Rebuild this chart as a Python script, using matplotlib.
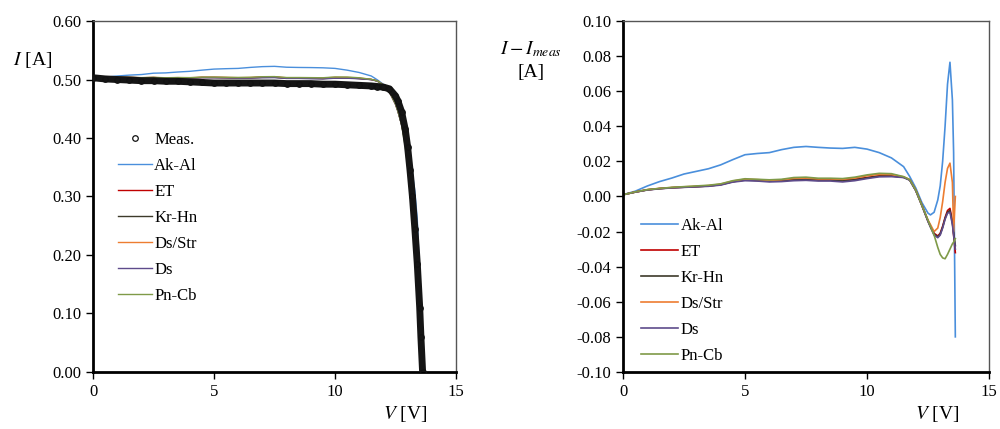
import numpy as np
import matplotlib
matplotlib.use("Agg")
import matplotlib.pyplot as plt

plt.rcParams['font.family'] = ['Liberation Serif', 'DejaVu Serif']
plt.rcParams['mathtext.fontset'] = 'stix'

# voltage grid [V]
V = [0, 0.5, 1, 1.5, 2, 2.5, 3, 3.5, 4, 4.5, 5, 5.5, 6, 6.5, 7, 7.5, 8, 8.5,
     9, 9.5, 10, 10.5, 11, 11.5, 11.75, 12, 12.25, 12.5, 12.6, 12.75, 12.9,
     13.0, 13.1, 13.2, 13.3, 13.4, 13.5, 13.55, 13.62]

# measured current [A]
I_meas = [0.503, 0.501, 0.500, 0.499, 0.498, 0.498, 0.497, 0.497, 0.496, 0.495,
          0.494, 0.494, 0.494, 0.494, 0.494, 0.494, 0.493, 0.493, 0.493, 0.492,
          0.492, 0.491, 0.490, 0.489, 0.488, 0.487, 0.484, 0.472, 0.463, 0.445,
          0.415, 0.385, 0.345, 0.300, 0.245, 0.185, 0.110, 0.060, 0.000]

# model minus measurement [A]
d_akal = [0.001, 0.003, 0.006, 0.0085, 0.0105, 0.0128, 0.0143, 0.0158, 0.018, 0.021,
          0.0238, 0.0245, 0.025, 0.0267, 0.028, 0.0285, 0.028, 0.0276, 0.0274, 0.028,
          0.027, 0.025, 0.022, 0.017, 0.0114, 0.0048, -0.0035, -0.0095, -0.0105, -0.009,
          -0.002, 0.006, 0.020, 0.040, 0.064, 0.0765, 0.055, 0.025, -0.080]
d_et = [0.001, 0.0025, 0.0038, 0.0045, 0.005, 0.0053, 0.0056, 0.006, 0.0068, 0.0085,
        0.0095, 0.0092, 0.0088, 0.009, 0.0098, 0.0100, 0.0095, 0.0095, 0.0092, 0.0098,
        0.0108, 0.0118, 0.0118, 0.0110, 0.0095, 0.0035, -0.005, -0.014, -0.017, -0.021,
        -0.0225, -0.021, -0.017, -0.012, -0.008, -0.0068, -0.014, -0.022, -0.032]
d_krhn = [0.001, 0.0025, 0.0038, 0.0045, 0.005, 0.0053, 0.0056, 0.006, 0.0067, 0.0084,
          0.0094, 0.0091, 0.0087, 0.0089, 0.0096, 0.0098, 0.0094, 0.0094, 0.0090, 0.0096,
          0.0106, 0.0116, 0.0117, 0.0109, 0.0094, 0.0034, -0.005, -0.014, -0.017, -0.0215,
          -0.023, -0.0215, -0.0175, -0.0125, -0.009, -0.008, -0.015, -0.021, -0.028]
d_dsstr = [0.001, 0.0026, 0.0039, 0.0046, 0.0051, 0.0055, 0.0058, 0.0062, 0.007, 0.0088,
           0.0098, 0.0096, 0.0092, 0.0095, 0.0103, 0.0105, 0.0100, 0.0100, 0.0098, 0.0105,
           0.0118, 0.0126, 0.0125, 0.0112, 0.0096, 0.0036, -0.005, -0.0135, -0.016, -0.020,
           -0.018, -0.012, -0.003, 0.008, 0.016, 0.019, 0.008, -0.020, 0.000]
d_ds = [0.001, 0.0025, 0.0037, 0.0044, 0.0049, 0.0052, 0.0055, 0.0058, 0.0065, 0.0082,
        0.009, 0.0088, 0.0083, 0.0085, 0.009, 0.0092, 0.0088, 0.0088, 0.0083, 0.009,
        0.0102, 0.0112, 0.0113, 0.0108, 0.0093, 0.0033, -0.0052, -0.0142, -0.0175, -0.022,
        -0.0235, -0.022, -0.018, -0.013, -0.0095, -0.009, -0.016, -0.022, -0.030]
d_pncb = [0.001, 0.0026, 0.0039, 0.0046, 0.0052, 0.0056, 0.006, 0.0064, 0.0072, 0.009,
          0.0101, 0.0098, 0.0095, 0.0098, 0.0108, 0.011, 0.0104, 0.0104, 0.0102, 0.011,
          0.0123, 0.0132, 0.013, 0.0113, 0.0096, 0.0036, -0.005, -0.0135, -0.017, -0.022,
          -0.029, -0.033, -0.035, -0.0355, -0.033, -0.030, -0.027, -0.026, -0.024]

names = ['Ak-Al', 'ET', 'Kr-Hn', 'Ds/Str', 'Ds', 'Pn-Cb']
diffs = [d_akal, d_et, d_krhn, d_dsstr, d_ds, d_pncb]
colors = ['#4a8fdc', '#c00000', '#3d3a2a', '#ed7d31', '#5e4b8b', '#7f9a48']

V = np.array(V)
I_meas = np.array(I_meas)

fig = plt.figure(figsize=(10, 4.29), dpi=100)
ax1 = fig.add_axes([0.093, 0.133, 0.363, 0.818])
ax2 = fig.add_axes([0.623, 0.133, 0.366, 0.818])


def style(ax):
    for s in ['left', 'bottom']:
        ax.spines[s].set_linewidth(2)
        ax.spines[s].set_color('black')
    for s in ['top', 'right']:
        ax.spines[s].set_linewidth(1)
        ax.spines[s].set_color('#555555')
    ax.tick_params(direction='out', length=5, width=1, labelsize=12,
                   top=False, right=False)
    ax.set_xlim(0, 15)
    ax.set_xticks([0, 5, 10, 15])


# left: I-V curves
for n, d, c in zip(names, diffs, colors):
    ax1.plot(V, I_meas + np.array(d), color=c, lw=1, label=n, zorder=2)
ax1.plot(V, I_meas, color='#151515', lw=5, zorder=3, solid_capstyle='butt')
ax1.plot(V, I_meas, 'o', ms=4, mfc='none', mec='#111111', mew=0.9,
         label='Meas.', zorder=3)
style(ax1)
ax1.set_ylim(0, 0.6)
ax1.set_yticks(np.arange(0, 0.61, 0.1))
ax1.set_yticklabels(['%.2f' % t for t in np.arange(0, 0.61, 0.1)])
h, l = ax1.get_legend_handles_labels()
h = h[-1:] + h[:-1]
l = l[-1:] + l[:-1]
ax1.legend(h, l, loc='upper left', bbox_to_anchor=(0.07, 0.685), frameon=False,
           fontsize=12, handlelength=2.0, handletextpad=0.15,
           labelspacing=0.6, borderaxespad=0, borderpad=0)
fig.text(0.033, 0.86, r'$I$ [A]', fontsize=14, ha='center', va='center')
fig.text(0.405, 0.035, r'$V$ [V]', fontsize=14, ha='center', va='center')

# right: differences
for n, d, c in zip(names, diffs, colors):
    ax2.plot(V, d, color=c, lw=1.2, label=n)
style(ax2)
ax2.set_ylim(-0.1, 0.1)
yt = np.arange(-0.1, 0.101, 0.02)
ax2.set_yticks(yt)
ax2.set_yticklabels(['%.2f' % (0 if abs(t) < 1e-9 else t) for t in yt])
ax2.legend(loc='upper left', bbox_to_anchor=(0.05, 0.44), frameon=False,
           fontsize=12, handlelength=2.2, handletextpad=0.15,
           labelspacing=0.6, borderaxespad=0, borderpad=0)
fig.text(0.531, 0.885, r'$I - I_{meas}$', fontsize=14, ha='center', va='center')
fig.text(0.531, 0.83, '[A]', fontsize=14, ha='center', va='center')
fig.text(0.937, 0.035, r'$V$ [V]', fontsize=14, ha='center', va='center')

fig.savefig('out.png', dpi=100)
